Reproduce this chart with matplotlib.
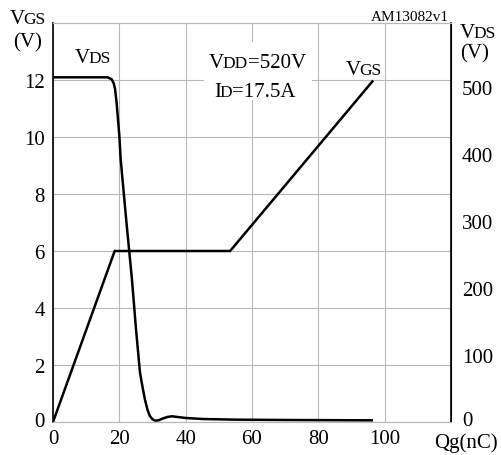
import numpy as np
import matplotlib.pyplot as plt
import matplotlib.transforms as mtransforms
from matplotlib.patches import Rectangle

plt.rcParams['font.family'] = ['Liberation Serif', 'DejaVu Serif']

# gate charge curves
qg_vgs = [0, 18.6, 53.4, 96.3]
vgs = [0, 6, 6, 11.95]

qg_vds = [0, 16.5, 17.7, 18.3, 18.7, 19.2, 20.0, 20.4, 22.1, 23.8, 25.0, 26.2,
          26.7, 27.7, 28.5, 29.2, 30.0, 30.8, 31.8, 33.0, 34.5, 35.9, 37.5,
          40, 45, 55, 70, 96.1]
vds = [514, 514, 511, 505, 497, 475, 427, 392, 300, 213, 140, 75,
       60, 34, 18, 9, 4, 2, 2.5, 5, 7.5, 8.5, 7.5,
       6, 4.5, 3.5, 3, 2.5]

vgs_ticks = [0, 2, 4, 6, 8, 10, 12]
vds_ticks = [0, 100, 200, 300, 400, 500]
qg_ticks = [0, 20, 40, 60, 80, 100]

W, H = 501, 456
fig = plt.figure(figsize=(W / 100, H / 100), dpi=100)
ax = fig.add_axes([53 / W, 1 - 423 / H, (451 - 53) / W, (423 - 24) / H])
ax2 = ax.twinx()

ax.set_xlim(0, 120)
ax.set_ylim(0, 14)
ax2.set_ylim(0, 595)

grid_c = '#b8b8b8'
ax.set_xticks(qg_ticks)
ax.set_yticks(vgs_ticks)
ax2.set_yticks(vds_ticks)
ax.grid(True, color=grid_c, lw=0.8)
ax.tick_params(axis='both', length=0, labelsize=15)
ax.tick_params(axis='y', pad=6)
ax.tick_params(axis='x', pad=5)
ax2.tick_params(axis='y', length=0, labelsize=15, pad=8)

for a in (ax, ax2):
    a.spines['top'].set_color(grid_c)
    a.spines['bottom'].set_color(grid_c)
    a.spines['top'].set_linewidth(0.8)
    a.spines['bottom'].set_linewidth(0.8)
ax.spines['left'].set_color('black')
ax.spines['left'].set_linewidth(1.2)
ax2.spines['right'].set_color('black')
ax2.spines['right'].set_linewidth(1.2)
ax2.spines['left'].set_visible(False)

# lift the two zero labels a little off the baseline
fig.canvas.draw()
for lab, dy in ((ax.get_yticklabels()[0], 3), (ax2.get_yticklabels()[0], 4)):
    lab.set_transform(mtransforms.offset_copy(lab.get_transform(), fig=fig,
                                              x=0, y=dy, units='dots'))

ax.plot(qg_vgs, vgs, color='black', lw=1.8, solid_joinstyle='miter')
ax2.plot(qg_vds, vds, color='black', lw=1.8)


def sub_text(x, y, parts, bg=False):
    # draw a label made of pieces with different sizes on one baseline
    kw = dict(color='black', annotation_clip=False)
    if bg:
        kw['bbox'] = dict(fc='white', ec='none', pad=0)
    prev, psize = None, None
    for s, size in parts:
        if prev is None:
            t = ax.annotate(s, xy=(x, H - y), xycoords='figure pixels',
                            fontsize=size, ha='left', va='baseline', **kw)
        else:
            dx = -1.0 if psize > size else 0
            t = ax.annotate(s, xy=(1, 0), xycoords=prev,
                            xytext=(dx, 0.22 * (psize - size)),
                            textcoords='offset points', fontsize=size,
                            ha='left', va='bottom', **kw)
        prev, psize = t, size


BIG, SUB = 15, 12.5
sub_text(10, 24, [('V', BIG), ('GS', SUB)])
fig.text(28 / W, 1 - 47 / H, '(V)', fontsize=BIG, ha='center', va='baseline')
sub_text(460, 38, [('V', BIG), ('DS', SUB)])
fig.text(475 / W, 1 - 58 / H, '(V)', fontsize=BIG, ha='center', va='baseline')
fig.text(449 / W, 1 - 21 / H, 'AM13082v1', fontsize=11, ha='right',
         va='baseline')
fig.text(466 / W, 1 - 448 / H, 'Qg(nC)', fontsize=BIG, ha='center',
         va='baseline')

# white block behind the test-condition note
ax.add_patch(Rectangle((204 / W, 1 - 101 / H), 108 / W, 58 / H,
                       transform=fig.transFigure, fc='white', ec='none',
                       zorder=2.5, clip_on=False))

sub_text(75, 63, [('V', BIG), ('DS', SUB)])
sub_text(209, 68, [('V', BIG), ('DD', SUB), ('=520V', BIG)])
sub_text(214, 97, [('I', BIG), ('D', SUB), ('=17.5A', BIG)])
sub_text(346, 75, [('V', BIG), ('GS', SUB)], bg=True)

fig.savefig('out.png', dpi=100)
